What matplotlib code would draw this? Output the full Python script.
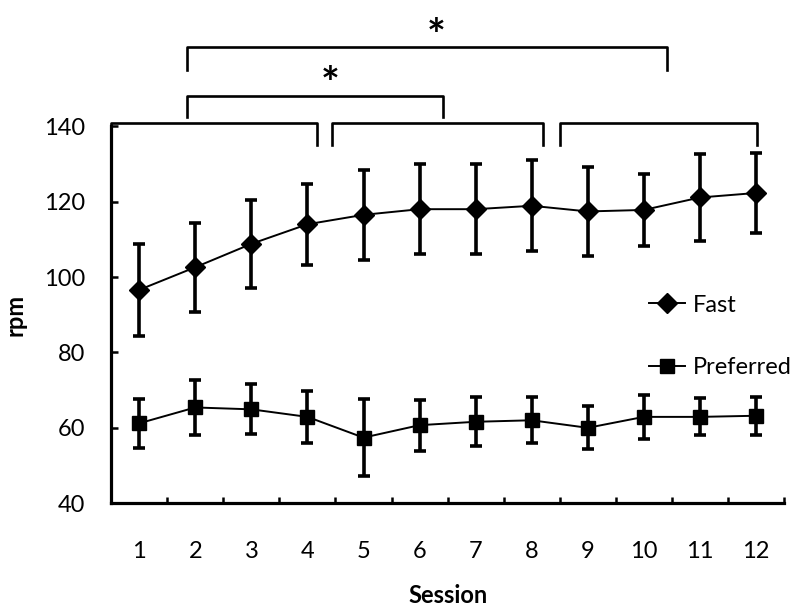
import matplotlib
matplotlib.use("Agg")
import matplotlib.pyplot as plt
from matplotlib.lines import Line2D
import numpy as np

# values (mean +- sd per session)
sessions = [1, 2, 3, 4, 5, 6, 7, 8, 9, 10, 11, 12]
fast = [96.6, 102.6, 108.8, 114.0, 116.5, 118.0, 118.0, 118.9, 117.4, 117.8, 121.1, 122.3]
fast_err = [12.2, 11.8, 11.6, 10.7, 12.0, 12.0, 12.0, 12.1, 11.8, 9.6, 11.6, 10.6]
preferred = [61.2, 65.4, 64.9, 62.9, 57.4, 60.7, 61.6, 62.0, 60.0, 62.9, 62.9, 63.2]
preferred_err = [6.5, 7.2, 6.6, 6.9, 10.3, 6.8, 6.5, 6.1, 5.7, 5.8, 4.9, 5.0]

# significance brackets: (x start, x end, top y, leg bottom y)
brackets = [(0.5, 4.17, 140.8, 135.0),
            (4.43, 8.21, 140.8, 135.0),
            (8.51, 12.02, 140.8, 135.0),
            (1.85, 6.41, 148.1, 142.5),
            (1.85, 10.42, 161.1, 155.0)]
stars = [(4.41, 151.0), (6.29, 163.8)]

plt.rcParams['font.family'] = ['Lato', 'DejaVu Sans']

fig = plt.figure(figsize=(8, 6.07), dpi=100)
ax = fig.add_axes([0.139, 0.171, 0.841, 0.621])

ax.errorbar(sessions, fast, yerr=fast_err, color='black', marker='D', ms=10.5,
            lw=1.4, elinewidth=2.6, capsize=4.5, capthick=2.6, zorder=3)
ax.errorbar(sessions, preferred, yerr=preferred_err, color='black', marker='s', ms=9.5,
            lw=1.4, elinewidth=2.6, capsize=4.5, capthick=2.6, zorder=3)

ax.set_xlim(0.5, 12.5)
ax.set_ylim(40, 140)
ax.set_yticks(np.arange(40, 141, 20))
ax.set_xticks(sessions)
ax.set_xticks(np.arange(1.5, 12.6, 1), minor=True)
ax.tick_params(axis='x', which='major', length=0, pad=27, labelsize=17)
ax.tick_params(axis='x', which='minor', direction='in', length=4, width=1.8)
ax.tick_params(axis='y', direction='in', length=5, width=1.8, pad=19, labelsize=17)

for s in ['top', 'right']:
    ax.spines[s].set_visible(False)
for s in ['left', 'bottom']:
    ax.spines[s].set_linewidth(2.3)

ax.set_xlabel('Session', fontsize=17, fontweight='bold', labelpad=16)
ax.set_ylabel('rpm', fontsize=17, fontweight='bold', labelpad=12)

for x0, x1, ytop, ybot in brackets:
    ax.plot([x0, x0, x1, x1], [ybot, ytop, ytop, ybot], color='black', lw=1.9,
            clip_on=False, solid_joinstyle='round')
for sx, sy in stars:
    ax.text(sx, sy, '*', fontsize=32, fontweight='bold', ha='center', va='center')

handles = [Line2D([], [], color='black', lw=1.4, marker='D', ms=10.5),
           Line2D([], [], color='black', lw=1.4, marker='s', ms=9.5)]
ax.legend(handles, ['Fast', 'Preferred'], loc='upper left', bbox_to_anchor=(0.80, 0.553),
          frameon=False, fontsize=17, handlelength=1.5, handletextpad=0.35,
          labelspacing=1.75, borderpad=0, borderaxespad=0)

fig.savefig('out.png', dpi=100)
